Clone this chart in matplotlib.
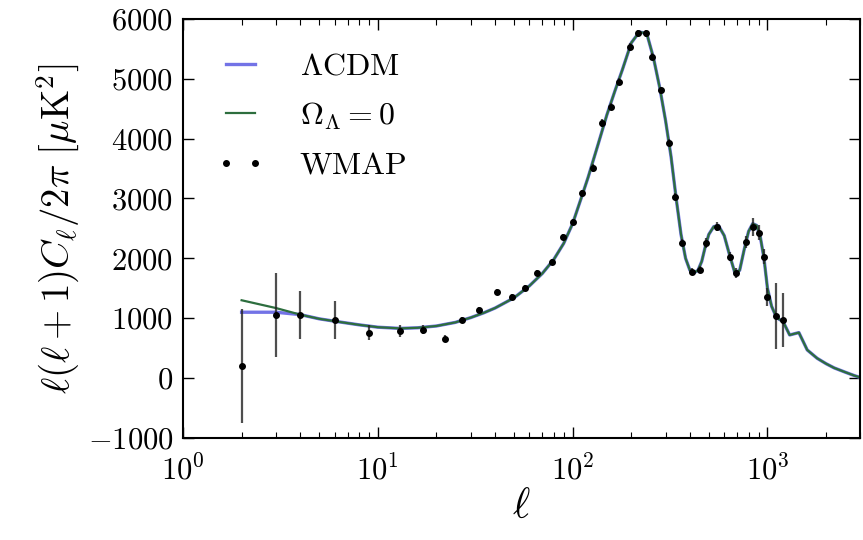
import numpy as np
import matplotlib
matplotlib.use("Agg")
import matplotlib.pyplot as plt
from matplotlib.ticker import FixedLocator

plt.rcParams.update({
    'font.family': 'serif',
    'font.serif': ['cmr10'],
    'mathtext.fontset': 'cm',
    'axes.unicode_minus': False,
    'axes.formatter.use_mathtext': True,
})

# model curves
ell_model = [2, 3, 4, 5, 6, 8, 10, 13, 16, 20, 25, 30, 35, 40, 50, 60, 70, 80, 90,
             100, 110, 120, 135, 150, 165, 180, 200, 220, 240, 260, 280, 300, 320,
             340, 360, 380, 400, 420, 440, 460, 480, 500, 530, 560, 600, 640, 680,
             720, 760, 800, 840, 880, 920, 960, 1000, 1050, 1100, 1150, 1200, 1300,
             1450, 1600, 1800, 2000, 2200, 2500, 2800, 3000]
omega0 = [1300, 1170, 1060, 990, 950, 890, 850, 830, 840, 870, 930, 1010, 1090, 1170,
          1340, 1540, 1750, 1980, 2250, 2580, 2980, 3350, 3900, 4400, 4800, 5150,
          5600, 5780, 5760, 5350, 4850, 4300, 3700, 3000, 2400, 2000, 1800, 1760,
          1800, 1950, 2200, 2400, 2530, 2550, 2380, 2050, 1760, 1800, 2150, 2450,
          2580, 2550, 2350, 2000, 1500, 1200, 1050, 980, 950, 720, 760, 470, 330,
          240, 170, 100, 40, 10]
lcdm = [1100, 1100] + omega0[2:]

# WMAP band powers
ell_wmap = [2, 3, 4, 6, 9, 13, 17, 22, 27, 33, 41, 49, 57, 66, 78, 89, 100, 112, 127,
            142, 158, 174, 196, 216, 238, 256, 285, 314, 336, 366, 412, 450, 485,
            550, 640, 690, 780, 840, 910, 960, 1000, 1100, 1200]
cl_wmap = [200, 1050, 1050, 970, 760, 780, 810, 660, 970, 1140, 1440, 1360, 1510,
           1760, 1940, 2360, 2610, 3090, 3510, 4260, 4530, 4950, 5530, 5760, 5760,
           5370, 4810, 3930, 3030, 2260, 1780, 1810, 2260, 2530, 2030, 1760, 2280,
           2530, 2430, 2030, 1360, 1030, 970]
err_wmap = [950, 700, 400, 320, 120, 100, 80, 60, 50, 50, 50, 50, 50, 50, 50, 50, 50,
            60, 60, 60, 60, 60, 60, 60, 60, 60, 60, 60, 60, 60, 60, 60, 80, 80, 80,
            80, 100, 150, 120, 120, 150, 550, 450]

fig = plt.figure(figsize=(8.63, 5.40), dpi=100)
ax = fig.add_axes([0.212, 0.189, 0.785, 0.776])

ax.plot(ell_model, lcdm, color='#7373e6', lw=2.4, label=r'$\Lambda\mathrm{CDM}$')
ax.plot(ell_model, omega0, color='#2d6e3e', lw=1.6, label=r'$\Omega_\Lambda=0$')
ax.errorbar(ell_wmap, cl_wmap, yerr=err_wmap, fmt='none', ecolor='#222222',
            elinewidth=1.6, alpha=0.8)
ax.plot(ell_wmap, cl_wmap, 'o', color='black', ms=4, ls='none', label='WMAP')

ax.set_xscale('log')
ax.set_xlim(1, 3000)
ax.set_ylim(-1000, 6000)
ax.yaxis.set_major_locator(FixedLocator(range(-1000, 6001, 1000)))
ax.tick_params(which='both', direction='in', top=True, right=True, labelsize=22)
ax.tick_params(axis='y', pad=7)
ax.tick_params(axis='x', pad=12)
ax.tick_params(which='major', length=8, width=1)
ax.tick_params(which='minor', length=4, width=0.8)
for s in ax.spines.values():
    s.set_linewidth(1.5)

ax.set_xlabel(r'$\ell$', fontsize=30, labelpad=2)
ax.set_ylabel(r'$\ell(\ell+1)C_\ell/2\pi\ [\mu\mathrm{K}^2]$', fontsize=28, labelpad=4)

ax.legend(loc='upper left', frameon=False, fontsize=23, numpoints=2,
          handlelength=1.5, handletextpad=1.1, borderaxespad=0.6,
          labelspacing=0.62, borderpad=0.45)

plt.savefig('out.png')
